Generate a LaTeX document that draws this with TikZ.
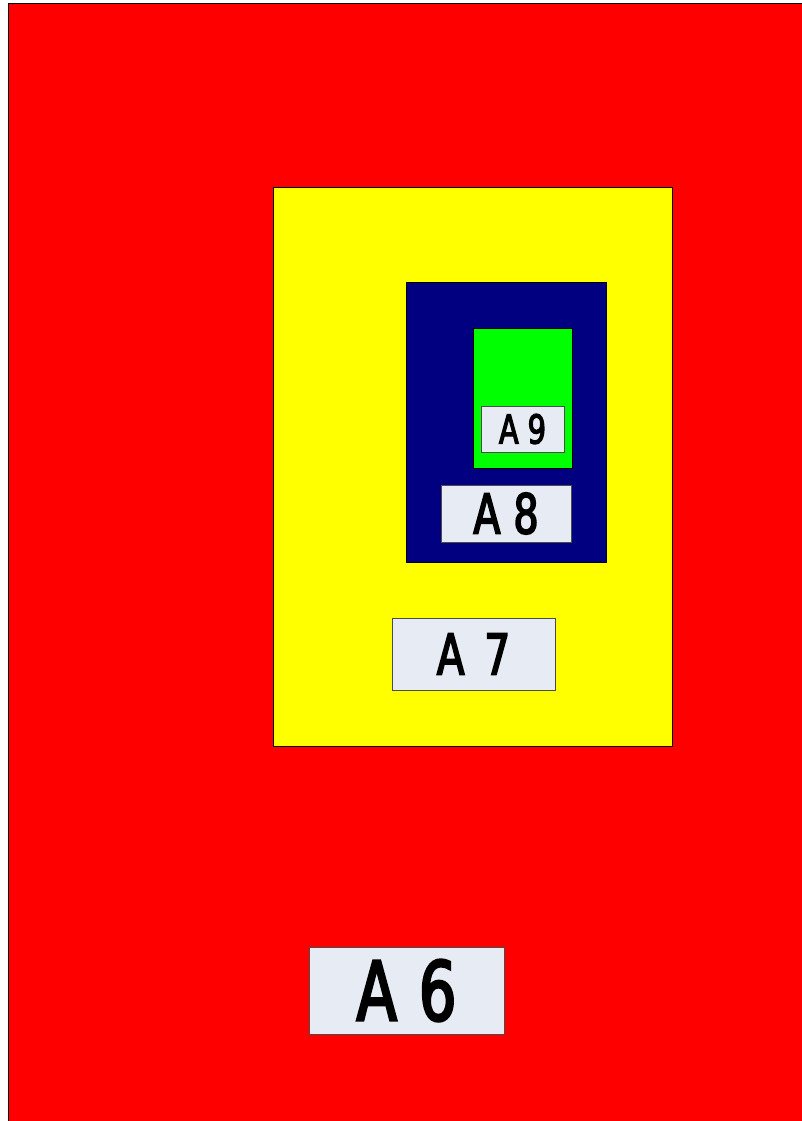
\documentclass[tikz,border=0pt]{standalone}
\usepackage{fontspec}
\newfontfamily\lblfont[FakeStretch=0.72,FakeBold=3]{DejaVu Sans}
\definecolor{lblfill}{HTML}{E6EBF4}
\definecolor{navy}{HTML}{000080}
\definecolor{lgreen}{HTML}{00FF00}
\definecolor{pred}{HTML}{FF0000}
\definecolor{pyellow}{HTML}{FFFF00}
\begin{document}
\begin{tikzpicture}[x=1pt,y=-1pt,
  region/.style={draw=black,line width=0.8pt},
  lbl/.style={draw=black!70,fill=lblfill,line width=0.8pt,inner sep=0pt}]
\useasboundingbox (0,0) rectangle (801,1121);
\fill[white] (0,0) rectangle (801,1121);
\path[region,fill=pred] (8,3) rectangle (802,1122);
\path[region,fill=pyellow] (273,187) rectangle (672,746);
\path[region,fill=navy] (406,282) rectangle (606,562);
\path[region,fill=lgreen] (473,328) rectangle (572,468);
\node[lbl,minimum width=83pt,minimum height=46pt,font=\lblfont\fontsize{40}{40}\selectfont] (a9) at (522.5,429) {A\hspace{9pt}9};
\node[lbl,minimum width=130pt,minimum height=57pt,font=\lblfont\fontsize{55}{55}\selectfont] (a8) at (506,513.5) {A\hspace{13pt}8};
\node[lbl,minimum width=163pt,minimum height=72pt,font=\lblfont\fontsize{56}{56}\selectfont] (a7) at (473.5,654) {A\hspace{20pt}7};
\node[lbl,minimum width=195pt,minimum height=87pt,font=\lblfont\fontsize{82}{82}\selectfont] (a6) at (406.5,990.5) {A\hspace{22pt}6};
\end{tikzpicture}
\end{document}
